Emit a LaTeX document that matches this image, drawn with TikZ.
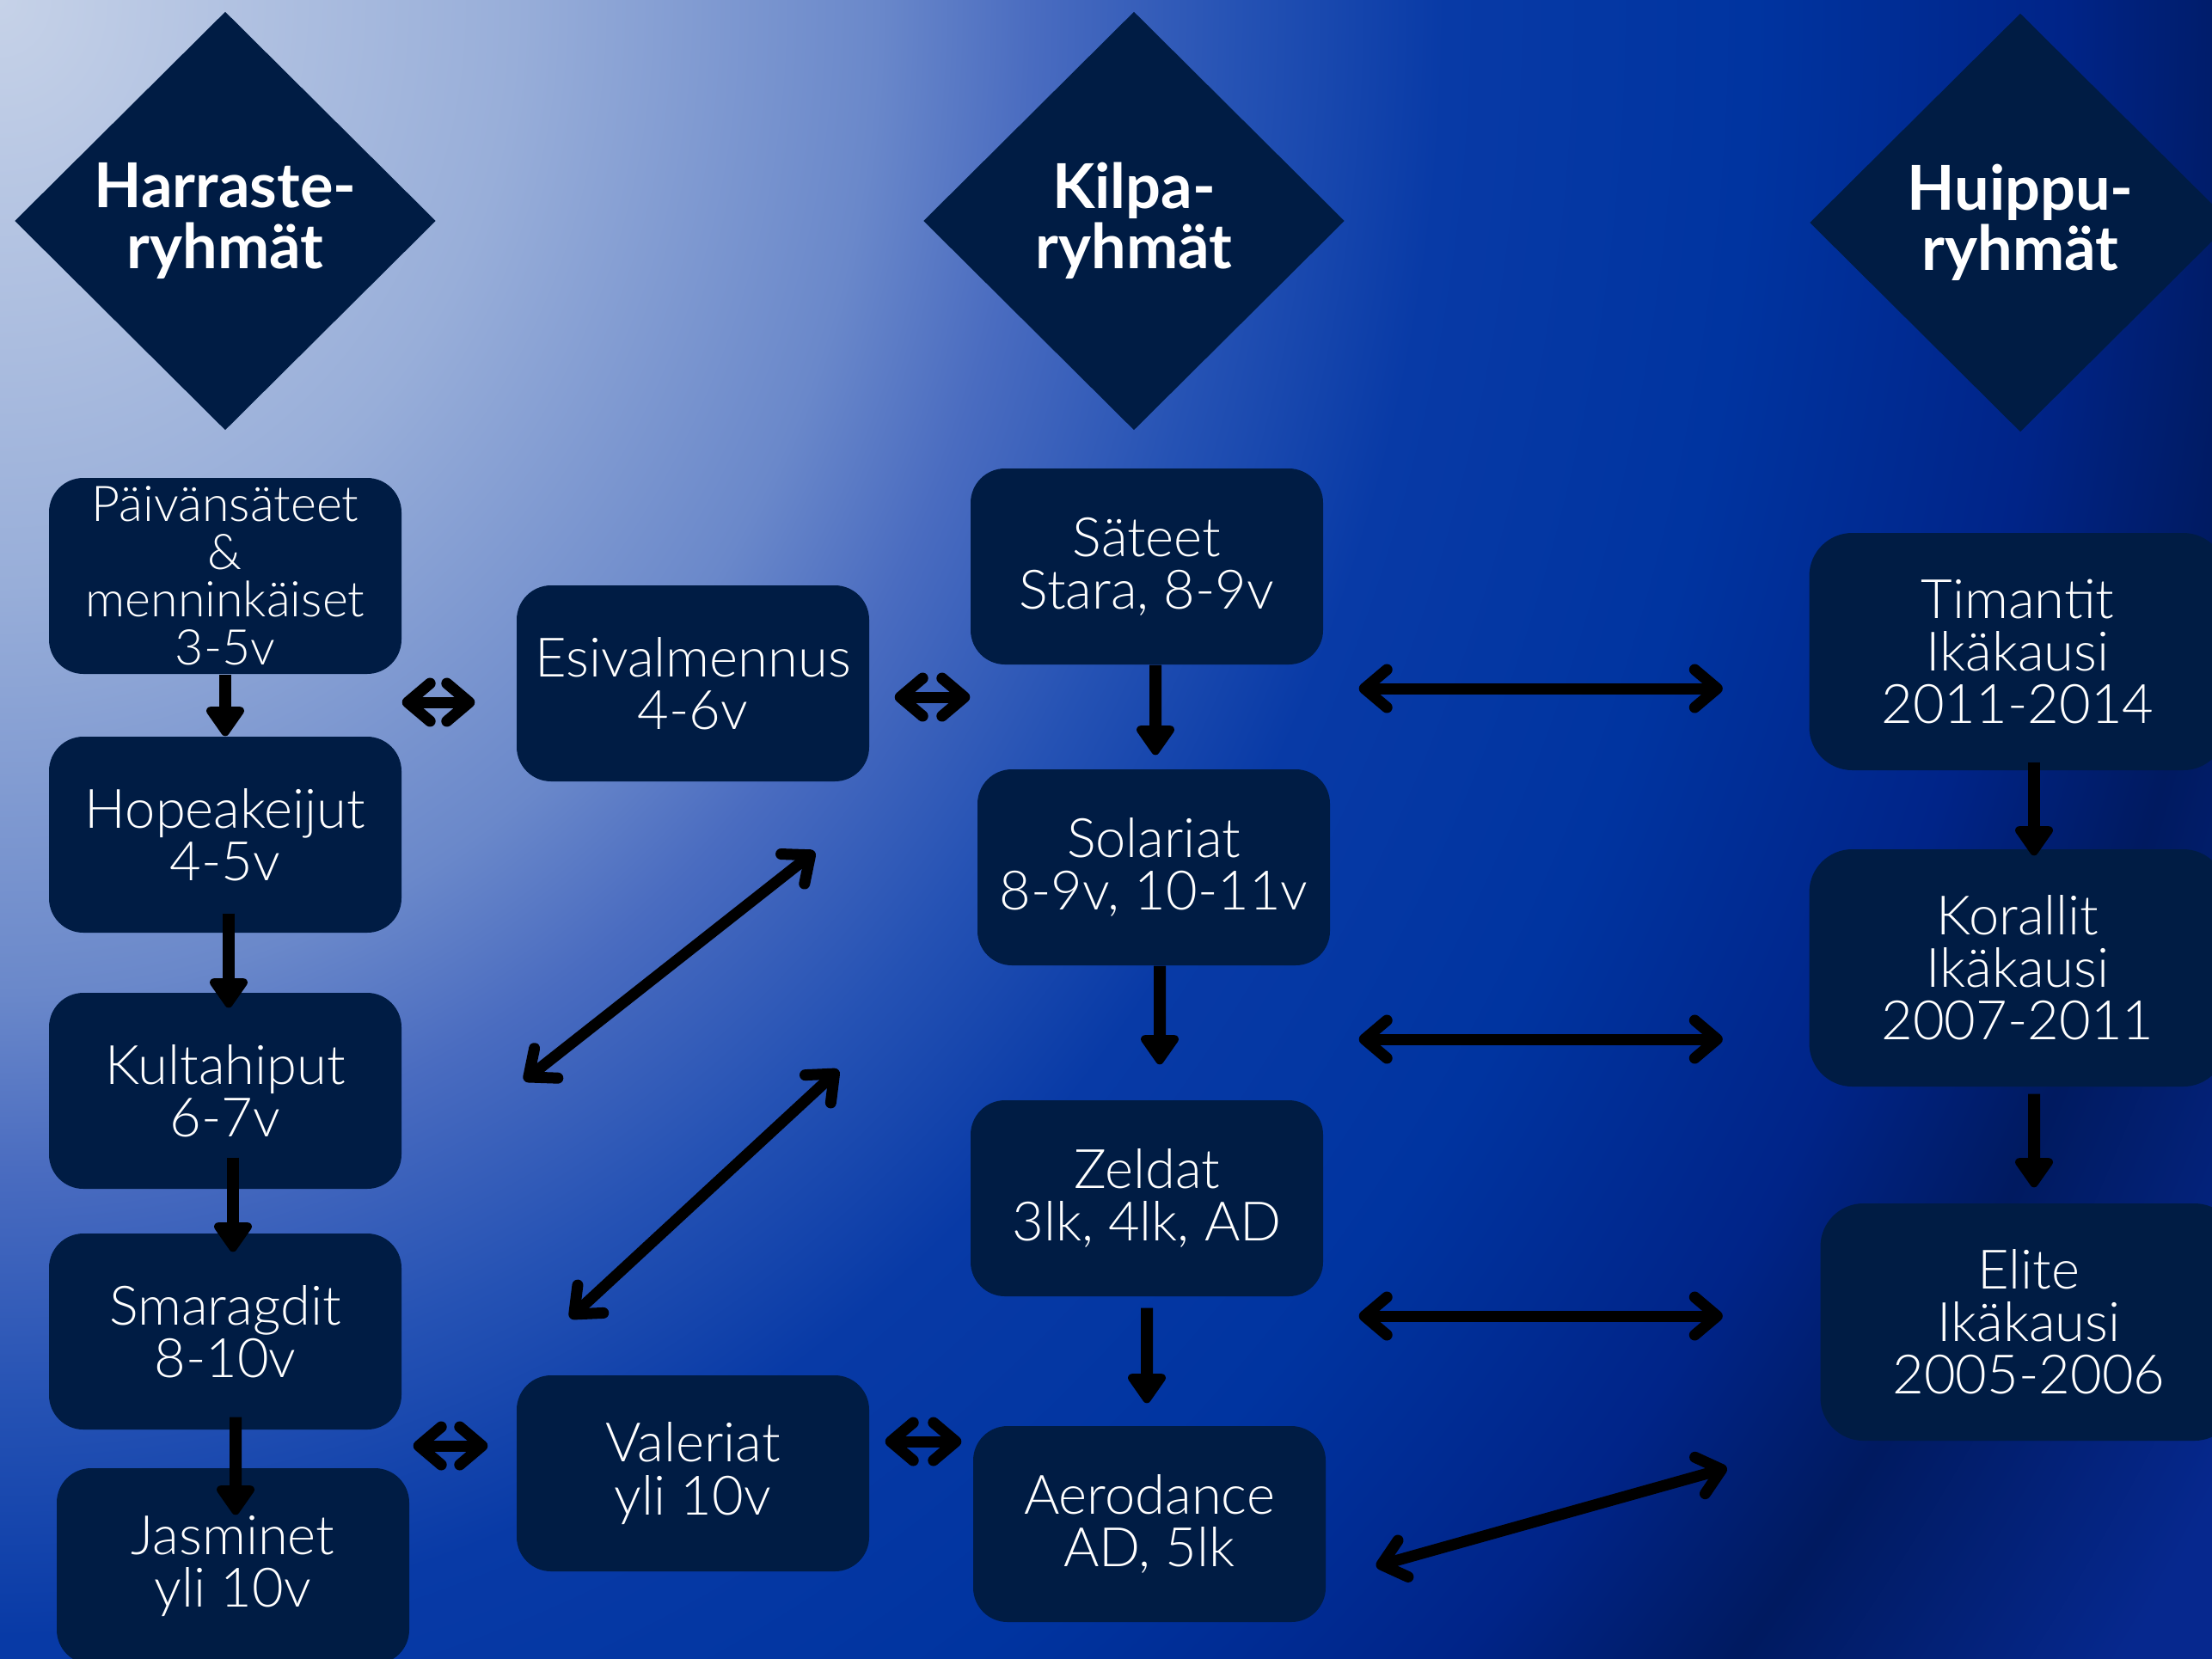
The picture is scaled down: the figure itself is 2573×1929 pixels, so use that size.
\documentclass[tikz,border=0pt]{standalone}
\usepackage{fontspec}
\setmainfont{Lato}
\newfontfamily\lightfont{Lato-Light.ttf}
\usetikzlibrary{shapes.geometric}
\usetikzlibrary{positioning}
\usetikzlibrary{arrows.meta}
\usetikzlibrary{calc}

\definecolor{navybox}{HTML}{001C44}
\definecolor{bgA}{HTML}{C6D2E8}
\definecolor{bgB}{HTML}{98AED9}
\definecolor{bgC}{HTML}{6A88CA}
\definecolor{bgD}{HTML}{4A6CC0}
\definecolor{bgE}{HTML}{2552B4}
\definecolor{bgF}{HTML}{083AA6}
\definecolor{bgG}{HTML}{0034A0}
\definecolor{bgH}{HTML}{002488}
\definecolor{bgI}{HTML}{001A60}
\definecolor{bgJ}{HTML}{06288E}

\pgfdeclareradialshading{bgglow}{\pgfpoint{0bp}{0bp}}{%
  color(0bp)=(bgA); color(2.5bp)=(bgB); color(4.25bp)=(bgC); color(5bp)=(bgD);
  color(6bp)=(bgE); color(7bp)=(bgF); color(8.5bp)=(bgG); color(10bp)=(bgH);
  color(11bp)=(bgI); color(12.5bp)=(bgJ); color(50bp)=(bgJ)}

\tikzset{
    grphead/.style = {diamond, fill=navybox, inner sep=0pt, minimum width=49mm, minimum height=48.7mm, align=center, text=white, font=\bfseries\fontsize{20.5pt}{20pt}\selectfont},
    grpbox/.style = {rectangle, rounded corners=4mm, fill=navybox, minimum width=41mm, minimum height=22.8mm, inner ysep=0.5mm, align=center, text=white, font=\lightfont\fontsize{18pt}{17.4pt}\selectfont},
    topbox/.style = {grpbox, minimum width=48.5mm, minimum height=27.6mm, rounded corners=5mm},
    downarr/.style = {-{Triangle[round, length=3.8mm, width=5mm]}, line width=1.4mm, black},
    dblarr/.style = {{Straight Barb[round, length=2.6mm, width=4.4mm]}-{Straight Barb[round, length=2.6mm, width=4.4mm]}, line width=1.3mm, line cap=round, black}
}

\begin{document}
\begin{tikzpicture}[x=0.1mm, y=-0.1mm]
\useasboundingbox (0,0) rectangle (2573,1929);
\begin{scope}
  \clip (0,0) rectangle (2573,1929);
  \shade[shading=bgglow] (0,0) ellipse [x radius=6000, y radius=6800];
\end{scope}

% headings
\node[grphead] (harraste) at (262,257) {Harraste-\\ryhmät};
\node[grphead] (kilpa) at (1319,257) {Kilpa-\\ryhmät};
\node[grphead] (huippu) at (2350,259) {Huippu-\\ryhmät};

% harrasteryhmat
\node[grpbox, inner ysep=0pt, font=\lightfont\fontsize{16.3pt}{15.8pt}\selectfont] (paiva) at (262,670) {Päivänsäteet\\\&\\menninkäiset\\3-5v};
\node[grpbox] (hopea) at (262,971) {Hopeakeijut\\4-5v};
\node[grpbox] (kulta) at (262,1269) {Kultahiput\\6-7v};
\node[grpbox] (smarag) at (262,1549) {Smaragdit\\8-10v};
\node[grpbox] (jasmin) at (271,1822) {Jasminet\\yli 10v};
\node[grpbox] (esival) at (806,795) {Esivalmennus\\4-6v};
\node[grpbox] (valer) at (806,1714) {Valeriat\\yli 10v};

% kilparyhmat
\node[grpbox] (sateet) at (1334,659) {Säteet\\Stara, 8-9v};
\node[grpbox] (solar) at (1342,1009) {Solariat\\8-9v, 10-11v};
\node[grpbox] (zeldat) at (1334,1394) {Zeldat\\3lk, 4lk, AD};
\node[grpbox] (aero) at (1337,1773) {Aerodance\\AD, 5lk};

% huippuryhmat
\node[topbox] (timant) at (2347,758) {Timantit\\Ikäkausi\\2011-2014};
\node[topbox] (koral) at (2347,1126) {Korallit\\Ikäkausi\\2007-2011};
\node[topbox] (elite) at (2360,1538) {Elite\\Ikäkausi\\2005-2006};

% down arrows
\draw[downarr] (paiva.south) -- (hopea.north);
\draw[downarr, shorten <=-2.3mm, shorten >=-1.8mm] ([xshift=0.4mm]hopea.south) -- ([xshift=0.4mm]kulta.north);
\draw[downarr, shorten <=-3.7mm, shorten >=-2.2mm] ([xshift=0.9mm]kulta.south) -- ([xshift=0.9mm]smarag.north);
\draw[downarr, shorten <=-1.5mm, shorten >=-5.5mm] ([xshift=1.2mm]smarag.south) -- ([xshift=0.3mm]jasmin.north);
\draw[downarr, shorten >=1.6mm] ([xshift=1mm]sateet.south) -- ([xshift=0.2mm]solar.north);
\draw[downarr, shorten >=4.1mm] ([xshift=0.7mm]solar.south) -- ([xshift=1.5mm]zeldat.north);
\draw[downarr, shorten <=1.3mm, shorten >=2.6mm] (zeldat.south) -- ([xshift=-0.3mm]aero.north);
\draw[downarr, shorten <=-1mm, shorten >=-0.8mm] ([xshift=1.9mm]timant.south) -- ([xshift=1.9mm]koral.north);
\draw[downarr, shorten <=0.8mm, shorten >=1.8mm] ([xshift=1.9mm]koral.south) -- ([xshift=0.6mm]elite.north);

% short two-way arrows
\coordinate (a1) at ($(esival.west)+(0,22)$);
\coordinate (a2) at ($(esival.east)+(0,16)$);
\coordinate (a3) at ($(valer.west)+(0,-32)$);
\coordinate (a4) at ($(valer.east)+(0,-37)$);
\draw[dblarr, shorten <=4.8mm] (a1) -- (a1 -| paiva.east);
\draw[dblarr, shorten <=2.9mm] (a2) -- (a2 -| sateet.west);
\draw[dblarr, shorten <=3.3mm, shorten >=1.3mm] (a3) -- (a3 -| smarag.east);
\draw[dblarr, shorten <=1.8mm, shorten >=1.3mm] (a4) -- (a4 -| aero.west);

% long two-way arrows
\coordinate (l1) at ($(timant.west)+(0,43)$);
\coordinate (l2) at ($(koral.west)+(0,83)$);
\coordinate (l3) at ($(elite.west)+(0,-7)$);
\draw[dblarr, shorten <=4.1mm, shorten >=10mm] (l1 -| sateet.east) -- (l1);
\draw[dblarr, shorten <=3.3mm, shorten >=10mm] (l2 -| solar.east) -- (l2);
\draw[dblarr, shorten <=4.1mm, shorten >=11.3mm] (l3 -| zeldat.east) -- (l3);
\draw[dblarr] ($(aero.east)+(58,49)$) -- ($(elite.south west)+(-108,31)$);

% diagonal arrows
\draw[dblarr] ($(esival.south east)+(-64,81)$) -- ($(kulta.east)+(142,-12)$);
\draw[dblarr] ($(solar.south west)+(-161,121)$) -- ($(valer.north)+(-143,-66)$);
\end{tikzpicture}
\end{document}
